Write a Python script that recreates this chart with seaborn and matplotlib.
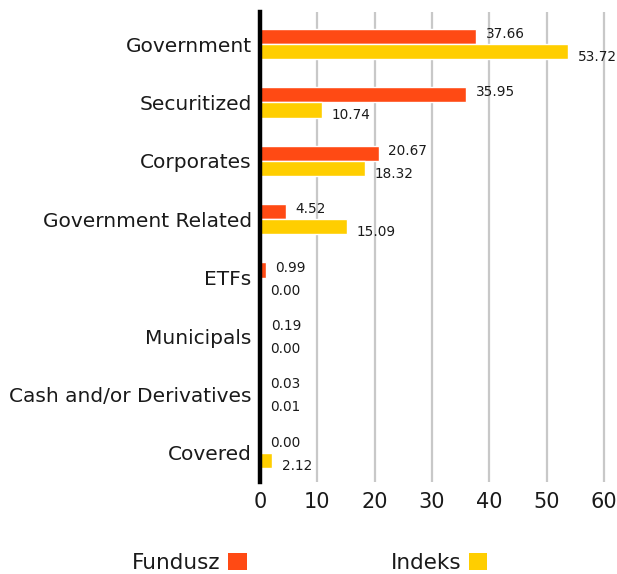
import matplotlib
matplotlib.use("Agg")
import matplotlib.pyplot as plt
import seaborn as sns
import pandas as pd
from matplotlib.patches import Patch

categories = ["Government", "Securitized", "Corporates", "Government Related",
              "ETFs", "Municipals", "Cash and/or Derivatives", "Covered"]
fundusz = [37.66, 35.95, 20.67, 4.52, 0.99, 0.19, 0.03, 0.00]
indeks = [53.72, 10.74, 18.32, 15.09, 0.00, 0.00, 0.01, 2.12]
series_names = ["Fundusz", "Indeks"]
colors = ["#FF4A14", "#FFCE00"]
xticks = [0, 10, 20, 30, 40, 50, 60]

df = pd.DataFrame({
    "category": categories * 2,
    "value": fundusz + indeks,
    "series": [series_names[0]] * len(categories) + [series_names[1]] * len(categories),
})

sns.set_theme(style="white")
plt.rcParams["font.family"] = ["DejaVu Sans"]

fig = plt.figure(figsize=(6.17, 5.74), dpi=100)
ax = fig.add_axes([260 / 617, 1 - 482 / 574, (607 - 260) / 617, (482 - 12) / 574])

sns.barplot(data=df, y="category", x="value", hue="series", orient="h",
            palette=colors, width=0.52, ax=ax, legend=False, saturation=1)

ax.set_xlim(0, 60.5)
ax.set_ylim(7.5, -0.55)
ax.set_xticks(xticks)
ax.set_xticklabels([str(t) for t in xticks], fontsize=15, color="#1a1a1a")
ax.tick_params(axis="y", length=0, pad=6, labelsize=14.5, labelcolor="#1a1a1a")
ax.tick_params(axis="x", length=0, pad=7)
ax.set_xlabel("")
ax.set_ylabel("")

ax.grid(axis="x", color="#c8c8c8", linewidth=1.6)
ax.set_axisbelow(True)
for s in ["top", "right", "bottom"]:
    ax.spines[s].set_visible(False)
ax.spines["left"].set_color("black")
ax.spines["left"].set_linewidth(3.2)
ax.spines["left"].set_zorder(5)

for ci, cont in enumerate(ax.containers):
    dy = 1.8 if ci == 0 else -3.8
    for bar in cont:
        w = bar.get_width()
        yc = bar.get_y() + bar.get_height() / 2
        ax.annotate(f"{w:.2f}", xy=(w, yc), xytext=(7, dy),
                    textcoords="offset points", ha="left", va="center",
                    fontsize=9.8, color="#1a1a1a")

handles = [Patch(facecolor=c, edgecolor="none") for c in colors]
fig.legend(handles, series_names, loc="center", bbox_to_anchor=(0.502, 1 - 563 / 574),
           ncol=2, markerfirst=False, frameon=False, fontsize=15.5,
           handlelength=0.88, handleheight=0.88, handletextpad=0.33,
           columnspacing=6.7, labelcolor="#1a1a1a")

fig.savefig("out.png", dpi=100)
